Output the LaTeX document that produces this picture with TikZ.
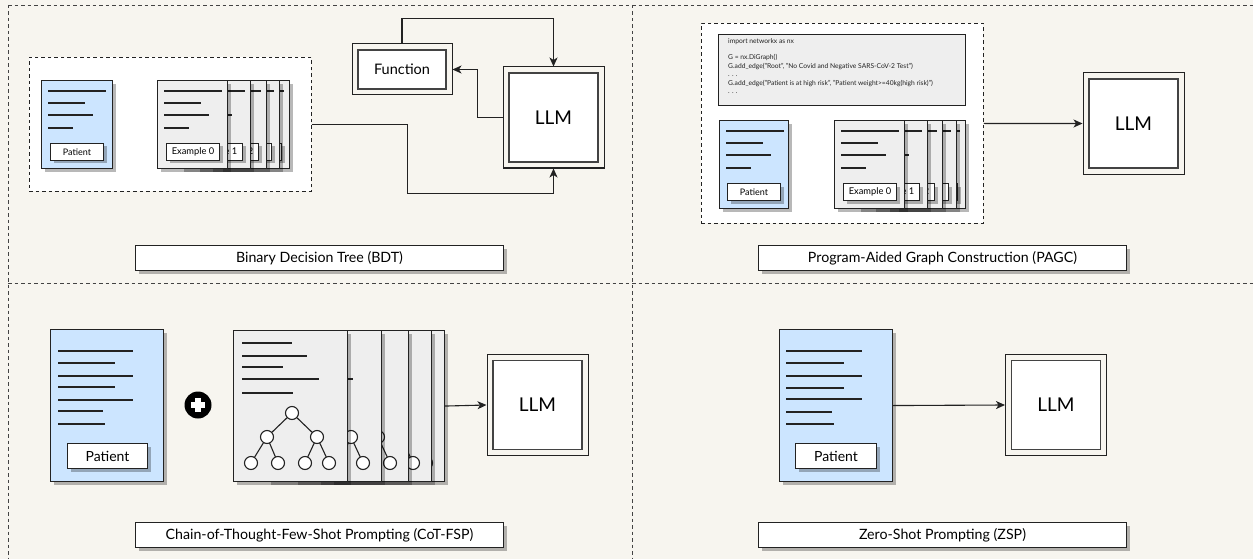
\documentclass[tikz,border=0pt]{standalone}
\usepackage{fontspec}
\setmainfont{Lato}
\usetikzlibrary{arrows.meta,shadows,calc}
\definecolor{bg}{HTML}{F7F5EF}
\definecolor{docblue}{HTML}{CCE5FF}
\definecolor{docgray}{HTML}{EEEEEE}
\definecolor{ink}{HTML}{222222}
\tikzset{
 shadowed/.style={drop shadow={shadow xshift=3pt,shadow yshift=-3pt,fill=black,opacity=0.28}},
 docbox/.style={draw=ink, line width=1.1pt, rectangle, anchor=north west, inner sep=0pt, shadowed},
 container/.style={draw=ink, line width=0.9pt, fill=white, anchor=north west, inner sep=0pt, dash pattern=on 3.5pt off 3pt},
 sep/.style={draw=ink!85, line width=0.85pt, dash pattern=on 3.5pt off 3pt},
 tagbox/.style={draw=ink, fill=white, line width=1pt, inner sep=0pt, anchor=north west, shadowed},
 titlebox/.style={draw=ink, fill=white, line width=1pt, inner sep=0pt, anchor=north west, shadowed, minimum width=368, minimum height=25, font=\fontsize{14.2}{16}\selectfont},
 docline/.style={draw=ink, line width=1.15pt},
 arr/.style={draw=ink, line width=1.1pt, -{Stealth[length=9pt,width=8pt,inset=2.5pt]}},
 dblbox/.style={draw=ink, line width=1pt, fill=bg, inner sep=0pt,
   path picture={\draw[draw=ink!85, line width=1.4pt, fill=white] ([shift={(6pt,-6pt)}]path picture bounding box.north west) rectangle ([shift={(-6pt,6pt)}]path picture bounding box.south east);}},
 llmbox/.style={dblbox, minimum width=101, minimum height=101, font=\fontsize{19}{22}\selectfont},
}
\begin{document}
\begin{tikzpicture}[x=1pt,y=-1pt]
\useasboundingbox (0,0) rectangle (1253,559);
\fill[bg] (0,0) rectangle (1253,559);
% panel separators
\draw[sep] (8,5) -- (1253,5);
\draw[sep] (8,5) -- (8,559);
\draw[sep] (632,5) -- (632,559);
\draw[sep] (8,283) -- (1253,283);

% ================= Panel 1: BDT =================
\node[container, minimum width=282, minimum height=134] (c1) at (29,57) {};
\node[docbox, fill=docblue, minimum width=71, minimum height=88] (pa) at (41,80) {};
\foreach \yy/\ll in {11/58,23/37,35/45,48/25} \draw[docline] ($(pa.north west)+(7,\yy)$) -- ++(\ll,0);
\node[tagbox, minimum width=53, minimum height=17, font=\fontsize{9}{10}\selectfont] (pal) at ($(pa.north west)+(9,63)$) {Patient};
\foreach \k/\dx in {4/62,3/52,2/39,1/23,0/0} {
  \node[docbox, fill=docgray, minimum width=70, minimum height=88] (ea\k) at (157+\dx,80) {};
  \foreach \yy/\ll in {11/58,23/37,35/45,48/25} \draw[docline] ($(ea\k.north west)+(7,\yy)$) -- ++(\ll,0);
  \node[tagbox, minimum width=53, minimum height=17, font=\fontsize{9.3}{10}\selectfont] (eal\k) at ($(ea\k.north west)+(9,63)$) {Example \k};
}
\node[llmbox] (llm1) at (553.5,117.5) {LLM};
\node[dblbox, minimum width=100, minimum height=51, font=\fontsize{14.5}{17}\selectfont] (fn) at (402,69.5) {Function};
\draw[arr] (c1.east) -- ++(96,0) -- ++(0,69) -| (llm1.south);
\draw[arr] (fn.north) -- ++(0,-25) -| (llm1.north);
\draw[arr] (llm1.west) -- ++(-25,0) |- (fn.east);
\node[titlebox] (t1) at (135,245) {Binary Decision Tree (BDT)};

% ================= Panel 2: PAGC =================
\node[container, minimum width=282, minimum height=200] (c2) at (701,23) {};
\node[draw=ink, line width=1.1pt, fill=docgray, anchor=north west, inner sep=0pt, minimum width=247, minimum height=71] (code) at (718,34) {};
\node[anchor=north west, inner sep=0pt, align=left, font=\fontsize{6.7}{8.4}\selectfont, text=ink] (codetext) at (728,38) {import networkx as nx\\[8.4pt]
G = nx.DiGraph()\\
G.add\_edge("Root", "No Covid and Negative SARS-CoV-2 Test")\\
. . .\\
G.add\_edge("Patient is at high risk", "Patient weight>=40kg(high risk)")\\
. . .};
\node[docbox, fill=docblue, minimum width=69, minimum height=88] (pb) at (719,120) {};
\foreach \yy/\ll in {11/58,23/37,35/45,48/25} \draw[docline] ($(pb.north west)+(7,\yy)$) -- ++(\ll,0);
\node[tagbox, minimum width=53, minimum height=17, font=\fontsize{9}{10}\selectfont] (pbl) at ($(pb.north west)+(8,63)$) {Patient};
\foreach \k/\dx in {4/61,3/52,2/38,1/23,0/0} {
  \node[docbox, fill=docgray, minimum width=70, minimum height=88] (eb\k) at (834+\dx,120) {};
  \foreach \yy/\ll in {11/58,23/37,35/45,48/25} \draw[docline] ($(eb\k.north west)+(7,\yy)$) -- ++(\ll,0);
  \node[tagbox, minimum width=53, minimum height=17, font=\fontsize{9.3}{10}\selectfont] (ebl\k) at ($(eb\k.north west)+(9,63)$) {Example \k};
}
\node[llmbox] (llm2) at (1133.5,123.5) {LLM};
\draw[arr] (c2.east) -- (llm2.west);
\node[titlebox] (t2) at (758,245) {Program-Aided Graph Construction (PAGC)};

% ================= Panel 3: CoT-FSP =================
\node[docbox, fill=docblue, minimum width=113, minimum height=152] (pc) at (50,329) {};
\foreach \yy/\ll in {22/75,34/57,47/75,58/57,71/75,82/45,95/47} \draw[docline] ($(pc.north west)+(8,\yy)$) -- ++(\ll,0);
\node[tagbox, minimum width=80, minimum height=25, font=\fontsize{14}{16}\selectfont] (pcl) at ($(pc.north west)+(17,114)$) {Patient};
\node[circle, fill=black, minimum size=27, inner sep=0pt] (plus) at (198,405) {};
\fill[white] (plus.center) +(-7,-2.7) rectangle +(7,2.7);
\fill[white] (plus.center) +(-2.7,-7) rectangle +(2.7,7);
\foreach \k/\dx in {4/97,3/84,2/61,1/34,0/0} {
  \node[docbox, fill=docgray, minimum width=114, minimum height=151] (ec\k) at (233+\dx,330) {};
  \foreach \yy/\ll in {13/50,26/65,37/41,49/77,63/51} \draw[docline] ($(ec\k.north west)+(9,\yy)$) -- ++(\ll,0);
  \begin{scope}[shift={(ec\k.north west)}]
    \draw[ink, line width=1.1pt] (59,83) -- (34,107) (59,83) -- (84,107)
      (34,107) -- (18,133) (34,107) -- (45,133) (84,107) -- (72,133) (84,107) -- (96,133);
    \foreach \cx/\cy in {59/83,34/107,84/107,18/133,45/133,72/133,96/133}
      \draw[ink, line width=1.1pt, fill=white] (\cx,\cy) circle (6.5pt);
  \end{scope}
}
\node[llmbox] (llm3) at (537.5,405) {LLM};
\draw[arr] (ec4.east) -- (llm3.west);
\node[titlebox] (t3) at (135,522) {Chain-of-Thought-Few-Shot Prompting (CoT-FSP)};

% ================= Panel 4: ZSP =================
\node[docbox, fill=docblue, minimum width=113, minimum height=152] (pd) at (779,329) {};
\foreach \yy/\ll in {22/76,34/58,47/76,59/58,70/76,83/46,95/48} \draw[docline] ($(pd.north west)+(7,\yy)$) -- ++(\ll,0);
\node[tagbox, minimum width=81, minimum height=25, font=\fontsize{14}{16}\selectfont] (pdl) at ($(pd.north west)+(16,114)$) {Patient};
\node[llmbox] (llm4) at (1056,405) {LLM};
\draw[arr] (pd.east) -- (llm4.west);
\node[titlebox] (t4) at (758,522) {Zero-Shot Prompting (ZSP)};
\end{tikzpicture}
\end{document}
